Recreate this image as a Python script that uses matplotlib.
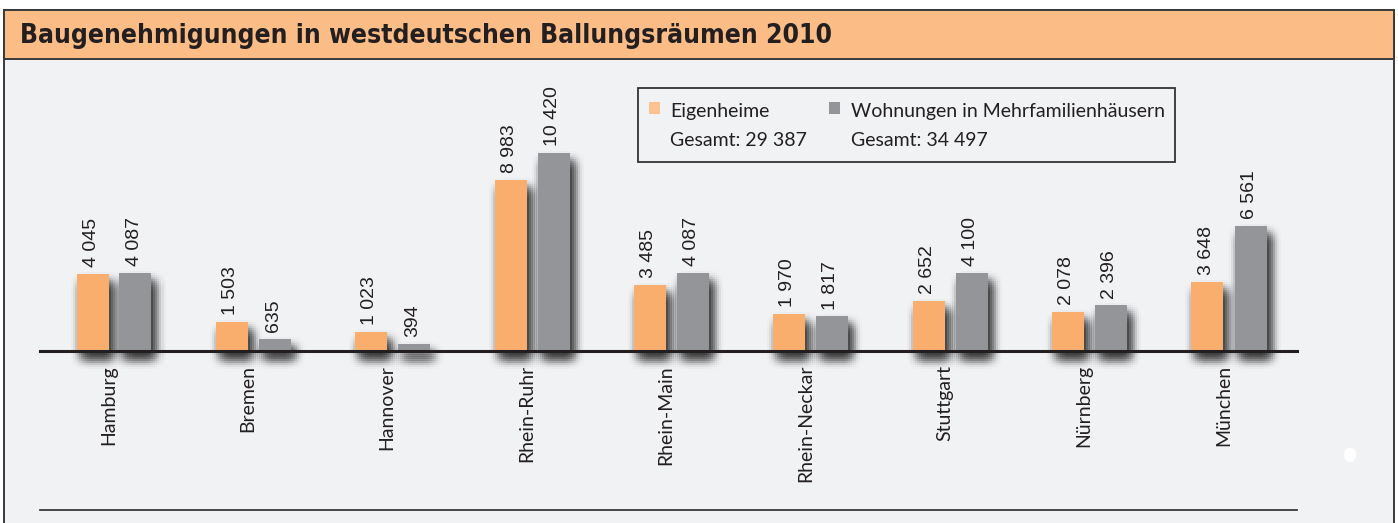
import matplotlib
matplotlib.use("Agg")
import matplotlib.pyplot as plt
import matplotlib.patheffects as pe
from matplotlib.patches import Rectangle, Ellipse
import numpy as np

# ---------------- data ----------------
title = "Baugenehmigungen in westdeutschen Ballungsräumen 2010"
cities = ["Hamburg", "Bremen", "Hannover", "Rhein-Ruhr", "Rhein-Main",
          "Rhein-Neckar", "Stuttgart", "Nürnberg", "München"]
eigenheime = [4045, 1503, 1023, 8983, 3485, 1970, 2652, 2078, 3648]
wohnungen = [4087, 635, 394, 10420, 4087, 1817, 4100, 2396, 6561]
series_names = ["Eigenheime", "Wohnungen in Mehrfamilienhäusern"]
totals = ["Gesamt: 29 387", "Gesamt: 34 497"]

# ---------------- style ----------------
W, H = 1398, 523
BG = "#F1F2F4"
TITLE_BG = "#FBBC86"
ORANGE = "#FAAE6E"
ORANGE_LEG = "#FDC291"
GRAY = "#939598"
DARK = "#231F20"
LABEL_FONT = ["Lato", "DejaVu Sans"]
VALUE_FONT = ["Liberation Sans", "DejaVu Sans"]

fig = plt.figure(figsize=(W / 100, H / 100), dpi=100)
fig.patch.set_facecolor("white")


def fx(x):
    return x / W


def fy(y):
    return 1 - y / H


# background panel and title bar
fig.patches.append(Rectangle((fx(4), fy(530)), fx(1390), fy(10) - fy(530),
                             transform=fig.transFigure, facecolor=BG,
                             edgecolor="#3A3A3A", lw=1.4, zorder=-3))
fig.patches.append(Rectangle((fx(4), fy(59)), fx(1390), fy(10) - fy(59),
                             transform=fig.transFigure, facecolor=TITLE_BG,
                             edgecolor="#3A3A3A", lw=1.4, zorder=-2))
fig.text(fx(20), fy(36), title, fontsize=19, fontweight="bold",
         family=["Liberation Sans Narrow", "DejaVu Sans"], fontstretch="condensed",
         color=DARK, va="center", ha="left")

# white dot decoration
fig.patches.append(Ellipse((fx(1350), fy(455)), fx(12), fy(0) - fy(14),
                           transform=fig.transFigure, facecolor="white",
                           edgecolor="none", zorder=-1))

# ---------------- chart axes ----------------
x0_px, x1_px = 40, 1297
ybase_px, ytop_px = 351, 153
ax = fig.add_axes([fx(x0_px), fy(ybase_px), fx(x1_px - x0_px), fy(ytop_px) - fy(ybase_px)])
ax.set_zorder(1)
ax.set_facecolor("none")
n = len(cities)
spacing_px = (1229 - 114) / (n - 1)
ax.set_xlim(-(114 - x0_px) / spacing_px, (n - 1) + (x1_px - 1229) / spacing_px)
ax.set_ylim(0, max(wohnungen))
for s in ax.spines.values():
    s.set_visible(False)
ax.set_xticks([])
ax.set_yticks([])

x = np.arange(n)
bw = 32 / spacing_px
off = 21.5 / spacing_px

# soft (blurred-looking) drop shadow built from many faint offset copies
shadow = []
sigma = 5.0
cx, cy = 4.0, -8.0  # pixels
for gx in np.arange(-12, 13, 2):
    for gy in np.arange(-12, 13, 2):
        w = np.exp(-(gx ** 2 + gy ** 2) / (2 * sigma ** 2))
        if w < 0.05:
            continue
        shadow.append(pe.SimplePatchShadow(offset=((cx + gx) * 0.72, (cy + gy) * 0.72),
                                           shadow_rgbFace="black", alpha=0.03 * w))
shadow.append(pe.Normal())

b1 = ax.bar(x - off, eigenheime, width=bw, color=ORANGE, zorder=3, clip_on=False)
b2 = ax.bar(x + off, wohnungen, width=bw, color=GRAY, zorder=3, clip_on=False)
for b in list(b1) + list(b2):
    b.set_path_effects(shadow)


def fmt(v):
    return f"{v:,}".replace(",", " ")


for xs, vals in [(x - off, eigenheime), (x + off, wohnungen)]:
    for xi, v in zip(xs, vals):
        ax.annotate(fmt(v), (xi, v), xytext=(-1, 5), textcoords="offset points",
                    rotation=90, ha="center", va="bottom", fontsize=14,
                    family=VALUE_FONT, color=DARK, annotation_clip=False)

for xi, c in zip(x, cities):
    ax.annotate(c, (xi, 0), xytext=(-4, -10), textcoords="offset points",
                rotation=90, ha="center", va="top", fontsize=14,
                family=LABEL_FONT, color=DARK, annotation_clip=False)

ax.axhline(0, color=DARK, lw=2.2, zorder=5, clip_on=False)

# bottom line
fig.add_artist(plt.Line2D([fx(x0_px), fx(x1_px)], [fy(510), fy(510)],
                          transform=fig.transFigure, color="#3A3A3A", lw=1.3))

# ---------------- legend ----------------
fig.patches.append(Rectangle((fx(638), fy(162)), fx(537), fy(88) - fy(162),
                             transform=fig.transFigure, facecolor=BG,
                             edgecolor="#333333", lw=1.3, zorder=2))
for (sx, tx), col, name, tot in zip([(649, 670), (829, 851)], [ORANGE_LEG, GRAY],
                                    series_names, totals):
    fig.patches.append(Rectangle((fx(sx), fy(114)), fx(11), fy(102) - fy(114),
                                 transform=fig.transFigure, facecolor=col,
                                 edgecolor="none", zorder=3))
    fig.text(fx(tx), fy(111), name, fontsize=14, family=LABEL_FONT, color=DARK,
             va="center", ha="left", zorder=4)
    fig.text(fx(tx), fy(141), tot, fontsize=14, family=LABEL_FONT, color=DARK,
             va="center", ha="left", zorder=4)

fig.savefig("out.png", dpi=100, facecolor=fig.get_facecolor())
